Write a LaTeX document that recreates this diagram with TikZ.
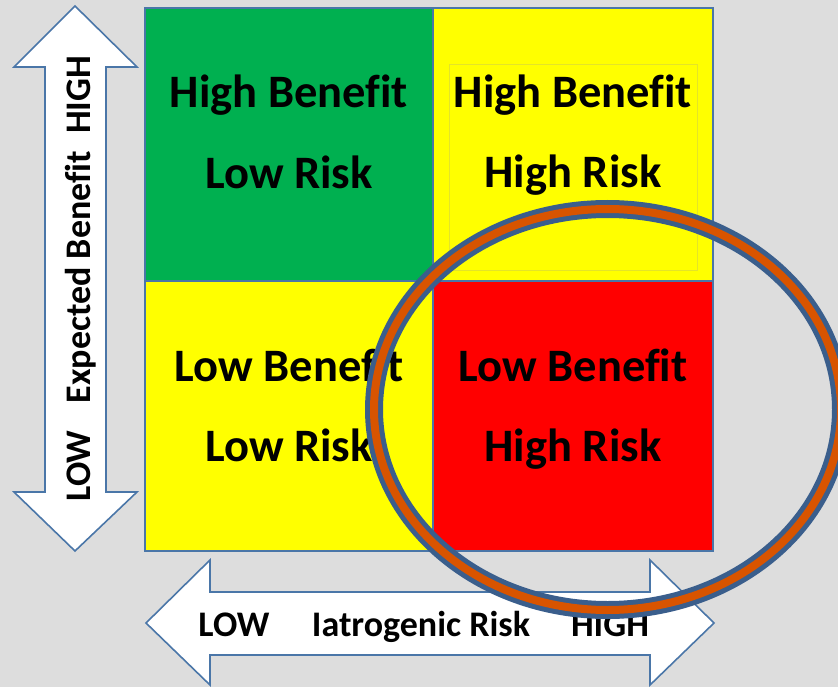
\documentclass[tikz,border=0pt]{standalone}
\usepackage{fontspec}
\setmainfont{Carlito}[Ligatures=NoCommon]
\definecolor{bg}{RGB}{221,221,221}
\definecolor{gridline}{RGB}{74,118,168}
\definecolor{arrowline}{RGB}{74,118,168}
\definecolor{cgreen}{RGB}{0,176,80}
\definecolor{cyellow}{RGB}{255,255,0}
\definecolor{cred}{RGB}{255,0,0}
\definecolor{faint}{RGB}{228,228,40}
\definecolor{ringblue}{RGB}{58,94,140}
\definecolor{ringorange}{RGB}{216,84,0}
\tikzset{
  cell/.style={draw=gridline, line width=2pt},
  celltext/.style={anchor=base, font=\bfseries\fontsize{46.5}{46.5}\selectfont, inner sep=0pt},
  bigarrow/.style={draw=arrowline, fill=white, line width=1.6pt, line join=miter},
  vlabel/.style={anchor=base, rotate=90, font=\bfseries\fontsize{36}{36}\selectfont, inner sep=0pt},
  hlabel/.style={anchor=base, font=\bfseries\fontsize{36}{36}\selectfont, inner sep=0pt},
}
\begin{document}
\begin{tikzpicture}[x=1pt,y=-1pt]
\fill[bg] (0,0) rectangle (838,687);
\useasboundingbox (0,0) rectangle (838,687);
% vertical arrow
\draw[bigarrow] (75,6) -- (137,67) -- (106,67) -- (106,492) -- (137,492) -- (75,551)
  -- (14,492) -- (45,492) -- (45,67) -- (14,67) -- cycle;
\node[vlabel] (vhigh) at (90,95) {HIGH};
\node[vlabel] (vexp) at (90,277) {Expected Benefit};
\node[vlabel] (vlow) at (90,466) {LOW};
% horizontal arrow
\draw[bigarrow] (146,623) -- (210,560) -- (210,592) -- (650,592) -- (650,560) -- (714,623)
  -- (650,685) -- (650,655) -- (210,655) -- (210,685) -- cycle;
\node[hlabel] (hlow) at (234,636) {LOW};
\node[hlabel] (hrisk) at (421,636) {Iatrogenic Risk};
\node[hlabel] (hhigh) at (610,636) {HIGH};
% grid cells
\draw[cell, fill=cgreen] (145,8) rectangle (433,281);
\draw[cell, fill=cyellow] (433,8) rectangle (713,281);
\draw[cell, fill=cyellow] (145,281) rectangle (433,551);
\draw[cell, fill=cred] (433,281) rectangle (713,551);
\draw[faint, line width=0.8pt] (449,64) rectangle (697,270);
% cell texts
\node[celltext] (tl1) at (289,108) {High Benefit};
\node[celltext] (tl2) at (289,189) {Low Risk};
\node[celltext] (tr1) at (573,108) {High Benefit};
\node[celltext] (tr2) at (573,188) {High Risk};
\node[celltext] (bl1) at (289,381) {Low Benefit};
\node[celltext] (bl2) at (289,461) {Low Risk};
\node[celltext] (br1) at (573,381) {Low Benefit};
\node[celltext] (br2) at (573,461) {High Risk};
% ring
\draw[ringblue, line width=18pt] (607.5,409.5) ellipse [x radius=233.5, y radius=200.5];
\draw[ringorange, line width=8pt] (607.5,409.5) ellipse [x radius=233.5, y radius=200.5];
\end{tikzpicture}
\end{document}
